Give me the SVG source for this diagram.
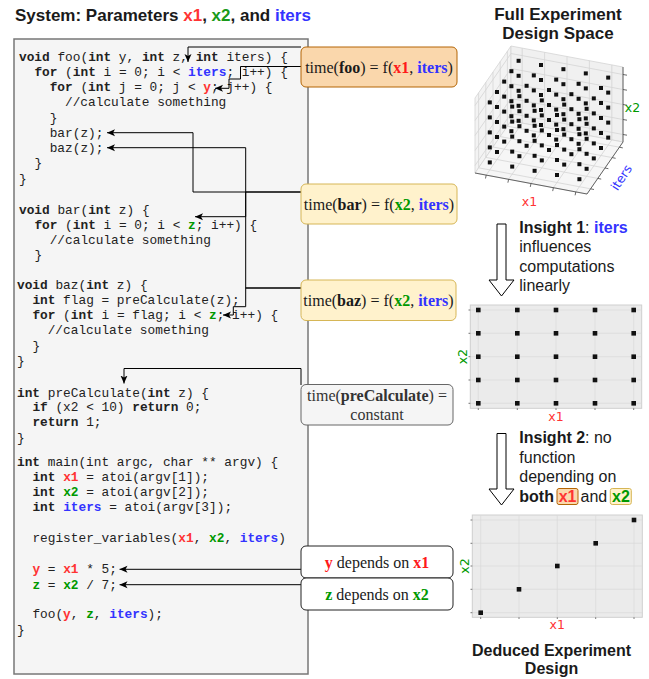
<svg xmlns="http://www.w3.org/2000/svg" xmlns:xlink="http://www.w3.org/1999/xlink" width="649" height="679" viewBox="0 0 649 679">
<style>
.code{font-family:"Liberation Mono","DejaVu Sans Mono",monospace;font-size:12.8px;fill:#222;white-space:pre}
.k{font-weight:bold}
.r{font-weight:bold;fill:#ff3333}
.g{font-weight:bold;fill:#009900}
.b{font-weight:bold;fill:#3333ff}
.lbl{font-family:"Liberation Serif","Times New Roman",serif;font-size:16px;fill:#1a1a1a;text-anchor:middle}
.lbl .r{fill:#ff1a1a}
.head{font-family:"Liberation Sans",Arial,sans-serif;font-weight:bold;fill:#1a1a1a}
.ins{font-family:"Liberation Sans",Arial,sans-serif;font-size:16px;fill:#1a1a1a}
.ax{font-family:"DejaVu Sans",sans-serif;font-size:12.5px}
.conn path{fill:none;stroke:#000;stroke-width:1;marker-end:url(#arr)}
.grid line{stroke:#d4d4d4;stroke-width:0.8}
.tick line{stroke:#444;stroke-width:0.8}
</style>
<defs>
<marker id="arr" viewBox="0 0 8 8" refX="8" refY="4" markerWidth="8" markerHeight="8" markerUnits="userSpaceOnUse" orient="auto">
<path d="M0,0.5 L8,4 L0,7.5 L2,4 Z" fill="#000"/>
</marker>
<rect id="sq" x="-2" y="-2" width="4" height="4" fill="#111"/>
<rect id="sq2" x="-2.3" y="-2.3" width="4.6" height="4.6" fill="#111"/>
<g id="row"><use href="#sq"/><use href="#sq" x="22.4" y="4.2"/><use href="#sq" x="44.8" y="8.4"/><use href="#sq" x="67.2" y="12.6"/><use href="#sq" x="89.6" y="16.8"/></g>
<g id="plane"><use href="#row"/><use href="#row" x="7.2" y="-10.4"/><use href="#row" x="14.4" y="-20.8"/><use href="#row" x="21.6" y="-31.2"/><use href="#row" x="28.8" y="-41.6"/></g>
</defs>
<rect width="649" height="679" fill="#fff"/>

<g id="title">
<text class="head" x="15" y="20.5" font-size="17">System: Parameters <tspan style="fill:#ff3333">x1</tspan>, <tspan style="fill:#1a9a1a">x2</tspan>, and <tspan style="fill:#3333ff">iters</tspan></text>
</g>

<g id="code-box">
<rect x="14" y="39" width="294" height="635" fill="#f5f5f5" stroke="#777" stroke-width="1.5"/>
<text class="code" y="60.5"><tspan x="19" class="k">void</tspan> foo(<tspan class="k">int</tspan> y, <tspan class="k">int</tspan> z, <tspan class="k">int</tspan> iters) {</text>
<text class="code" x="34.4" y="75.75"><tspan class="k">for</tspan> (<tspan class="k">int</tspan> i = 0; i &lt; <tspan class="b">iters</tspan>; i++) {</text>
<text class="code" x="49.7" y="91"><tspan class="k">for</tspan> (<tspan class="k">int</tspan> j = 0; j &lt; <tspan class="r">y</tspan>; j++) {</text>
<text class="code" x="65" y="106.25">//calculate something</text>
<text class="code" x="49.7" y="121.5">}</text>
<text class="code" x="49.7" y="136.75">bar(z);</text>
<text class="code" x="49.7" y="152">baz(z);</text>
<text class="code" x="34.4" y="167.25">}</text>
<text class="code" x="19" y="182.5">}</text>

<text class="code" x="19" y="213.5"><tspan class="k">void</tspan> bar(<tspan class="k">int</tspan> z) {</text>
<text class="code" x="34.4" y="228.75"><tspan class="k">for</tspan> (<tspan class="k">int</tspan> i = 0; i &lt; <tspan class="g">z</tspan>; i++) {</text>
<text class="code" x="49.7" y="244">//calculate something</text>
<text class="code" x="34.4" y="259.25">}</text>

<text class="code" x="17" y="288.5"><tspan class="k">void</tspan> baz(<tspan class="k">int</tspan> z) {</text>
<text class="code" x="32.4" y="303.75"><tspan class="k">int</tspan> flag = preCalculate(z);</text>
<text class="code" x="32.4" y="319"><tspan class="k">for</tspan> (<tspan class="k">int</tspan> i = flag; i &lt; <tspan class="g">z</tspan>; i++) {</text>
<text class="code" x="47.7" y="334.25">//calculate something</text>
<text class="code" x="32.4" y="349.5">}</text>
<text class="code" x="17" y="364.75">}</text>

<text class="code" x="17" y="396.5"><tspan class="k">int</tspan> preCalculate(<tspan class="k">int</tspan> z) {</text>
<text class="code" x="32.4" y="411"><tspan class="k">if</tspan> (x2 &lt; 10) <tspan class="k">return</tspan> 0;</text>
<text class="code" x="32.4" y="426"><tspan class="k">return</tspan> 1;</text>
<text class="code" x="17" y="441.5">}</text>

<text class="code" x="17" y="465.5"><tspan class="k">int</tspan> main(int argc, char ** argv) {</text>
<text class="code" x="32.4" y="480.75"><tspan class="k">int</tspan> <tspan class="r">x1</tspan> = atoi(argv[1]);</text>
<text class="code" x="32.4" y="496"><tspan class="k">int</tspan> <tspan class="g">x2</tspan> = atoi(argv[2]);</text>
<text class="code" x="32.4" y="511.25"><tspan class="k">int</tspan> <tspan class="b">iters</tspan> = atoi(argv[3]);</text>
<text class="code" x="32.4" y="541.75">register_variables(<tspan class="r">x1</tspan>, <tspan class="g">x2</tspan>, <tspan class="b">iters</tspan>)</text>
<text class="code" x="32.4" y="573.3"><tspan class="r">y</tspan> = <tspan class="r">x1</tspan> * 5;</text>
<text class="code" x="32.4" y="588.6"><tspan class="g">z</tspan> = <tspan class="g">x2</tspan> / 7;</text>
<text class="code" x="32.4" y="618.3">foo(<tspan class="r">y</tspan>, <tspan class="g">z</tspan>, <tspan class="b">iters</tspan>);</text>
<text class="code" x="17" y="633.5">}</text>
</g>

<g id="connectors" class="conn">
<path d="M301,47 H188 V62"/>
<path d="M301,66.5 H240.5 V79 H229 V88.3 H215"/>
<path d="M301,192 H193 V132.7 H107"/>
<path d="M301,192 H245.7 V216.7 H195"/>
<path d="M301,288 H245.7 V147.7 H107"/>
<path d="M301,288 H245.7 V306.7 H233.3 V315 H223"/>
<path d="M301,385 V368.5 H124 V383.5"/>
<path d="M301,569.3 H119.5"/>
<path d="M301,584.7 H119.5"/>
</g>

<g id="box-foo">
<rect x="301" y="47" width="156" height="40" rx="5" fill="#fad7ac" stroke="#b46504"/>
<text class="lbl" x="379" y="73">time(<tspan font-weight="bold">foo</tspan>) = f(<tspan class="r">x1</tspan>, <tspan class="b">iters</tspan>)</text>
</g>
<g id="box-bar">
<rect x="301" y="184" width="156" height="40" rx="5" fill="#fff2cc" stroke="#d6b656"/>
<text class="lbl" x="379" y="210">time(<tspan font-weight="bold">bar</tspan>) = f(<tspan class="g">x2</tspan>, <tspan class="b">iters</tspan>)</text>
</g>
<g id="box-baz">
<rect x="301" y="280" width="155" height="40.5" rx="5" fill="#fff2cc" stroke="#d6b656"/>
<text class="lbl" x="378.5" y="306">time(<tspan font-weight="bold">baz</tspan>) = f(<tspan class="g">x2</tspan>, <tspan class="b">iters</tspan>)</text>
</g>
<g id="box-precalc">
<rect x="301" y="384.5" width="152" height="40.5" rx="5" fill="#f5f5f5" stroke="#666"/>
<text class="lbl" x="377" y="400.7" style="fill:#333">time(<tspan font-weight="bold">preCalculate</tspan>) =</text>
<text class="lbl" x="377" y="420" style="fill:#333">constant</text>
</g>
<g id="box-y">
<rect x="301" y="546" width="152" height="32" rx="5" fill="#fff" stroke="#222"/>
<text class="lbl" x="377" y="567.5"><tspan class="r">y</tspan> depends on <tspan class="r">x1</tspan></text>
</g>
<g id="box-z">
<rect x="301" y="578" width="152" height="32" rx="5" fill="#fff" stroke="#222"/>
<text class="lbl" x="377" y="599.5"><tspan class="g">z</tspan> depends on <tspan class="g">x2</tspan></text>
</g>

<g id="full-space-title">
<text class="head" x="558" y="19.5" font-size="17" text-anchor="middle">Full Experiment</text>
<text class="head" x="558" y="38.8" font-size="17" text-anchor="middle">Design Space</text>
</g>

<g id="plot3d">
<polygon points="475,173 511,121 511,46 475,98" fill="#f3f3f3" stroke="#d4d4d4" stroke-width="0.8"/>
<polygon points="511,121 623,142 623,67 511,46" fill="#f0f0f0" stroke="#d4d4d4" stroke-width="0.8"/>
<polygon points="475,173 587,194 623,142 511,121" fill="#f6f6f6" stroke="#d4d4d4" stroke-width="0.8"/>
<g class="grid">
<line x1="478.6" y1="167.8" x2="478.6" y2="92.8"/><line x1="485.8" y1="157.4" x2="485.8" y2="82.4"/><line x1="493" y1="147" x2="493" y2="72"/><line x1="500.2" y1="136.6" x2="500.2" y2="61.6"/><line x1="507.4" y1="126.2" x2="507.4" y2="51.2"/>
<line x1="475" y1="165.5" x2="511" y2="113.5"/><line x1="475" y1="150.5" x2="511" y2="98.5"/><line x1="475" y1="135.5" x2="511" y2="83.5"/><line x1="475" y1="120.5" x2="511" y2="68.5"/><line x1="475" y1="105.5" x2="511" y2="53.5"/>
<line x1="522.2" y1="123.1" x2="522.2" y2="48.1"/><line x1="544.6" y1="127.3" x2="544.6" y2="52.3"/><line x1="567" y1="131.5" x2="567" y2="56.5"/><line x1="589.4" y1="135.7" x2="589.4" y2="60.7"/><line x1="611.8" y1="139.9" x2="611.8" y2="64.9"/>
<line x1="511" y1="113.5" x2="623" y2="134.5"/><line x1="511" y1="98.5" x2="623" y2="119.5"/><line x1="511" y1="83.5" x2="623" y2="104.5"/><line x1="511" y1="68.5" x2="623" y2="89.5"/><line x1="511" y1="53.5" x2="623" y2="74.5"/>
<line x1="486.2" y1="175.1" x2="522.2" y2="123.1"/><line x1="508.6" y1="179.3" x2="544.6" y2="127.3"/><line x1="531" y1="183.5" x2="567" y2="131.5"/><line x1="553.4" y1="187.7" x2="589.4" y2="135.7"/><line x1="575.8" y1="191.9" x2="611.8" y2="139.9"/>
<line x1="478.6" y1="167.8" x2="590.6" y2="188.8"/><line x1="485.8" y1="157.4" x2="597.8" y2="178.4"/><line x1="493" y1="147" x2="605" y2="168"/><line x1="500.2" y1="136.6" x2="612.2" y2="157.6"/><line x1="507.4" y1="126.2" x2="619.4" y2="147.2"/>
</g>
<g class="tick">
<line x1="475" y1="173" x2="587" y2="194"/><line x1="587" y1="194" x2="623" y2="142"/><line x1="623" y1="142" x2="623" y2="67"/>
<line x1="486.2" y1="175.1" x2="485.5" y2="178.5"/><line x1="508.6" y1="179.3" x2="507.9" y2="182.7"/><line x1="531" y1="183.5" x2="530.3" y2="186.9"/><line x1="553.4" y1="187.7" x2="552.7" y2="191.1"/><line x1="575.8" y1="191.9" x2="575.1" y2="195.3"/>
<line x1="590.6" y1="188.8" x2="594" y2="189.5"/><line x1="597.8" y1="178.4" x2="601.2" y2="179.1"/><line x1="605" y1="168" x2="608.4" y2="168.7"/><line x1="612.2" y1="157.6" x2="615.6" y2="158.3"/><line x1="619.4" y1="147.2" x2="622.8" y2="147.9"/>
<line x1="623" y1="134.5" x2="627" y2="135.2"/><line x1="623" y1="119.5" x2="627" y2="120.2"/><line x1="623" y1="104.5" x2="627" y2="105.2"/><line x1="623" y1="89.5" x2="627" y2="90.2"/><line x1="623" y1="74.5" x2="627" y2="75.2"/>
</g>
<g transform="translate(489.8,162.4)">
<use href="#plane"/><use href="#plane" y="-15"/><use href="#plane" y="-30"/><use href="#plane" y="-45"/><use href="#plane" y="-60"/>
</g>
<text class="ax" x="529.5" y="206" fill="#ff3333" text-anchor="middle">x1</text>
<text class="ax" x="632.5" y="112" fill="#009900" text-anchor="middle">x2</text>
<text class="ax" x="0" y="0" fill="#3333ff" text-anchor="middle" transform="translate(625,180) rotate(-57)">iters</text>
</g>

<g id="insight1">
<polygon points="497,224 506,224 506,280 514,280 501.5,296 489,280 497,280" fill="#fff" stroke="#000" stroke-width="1"/>
<text class="ins" x="519.3" y="232.5"><tspan font-weight="bold">Insight 1</tspan>: <tspan font-weight="bold" style="fill:#3333ff">iters</tspan></text>
<text class="ins" x="519.3" y="252">influences</text>
<text class="ins" x="519.3" y="271.5">computations</text>
<text class="ins" x="519.3" y="291">linearly</text>
</g>

<g id="plot2d-grid">
<rect x="470.3" y="305" width="171.4" height="103.3" fill="#ebebeb" stroke="#cfcfcf"/>
<g stroke="#dadada" stroke-width="0.7">
<line x1="478.3" y1="305" x2="478.3" y2="408.3"/><line x1="517.3" y1="305" x2="517.3" y2="408.3"/><line x1="556" y1="305" x2="556" y2="408.3"/><line x1="595" y1="305" x2="595" y2="408.3"/><line x1="633.7" y1="305" x2="633.7" y2="408.3"/>
<line x1="470.3" y1="310" x2="641.7" y2="310"/><line x1="470.3" y1="333.3" x2="641.7" y2="333.3"/><line x1="470.3" y1="356.7" x2="641.7" y2="356.7"/><line x1="470.3" y1="380" x2="641.7" y2="380"/><line x1="470.3" y1="403.3" x2="641.7" y2="403.3"/>
</g>
<g stroke="#555" stroke-width="0.8">
<line x1="468.5" y1="310" x2="470.3" y2="310"/><line x1="468.5" y1="333.3" x2="470.3" y2="333.3"/><line x1="468.5" y1="356.7" x2="470.3" y2="356.7"/><line x1="468.5" y1="380" x2="470.3" y2="380"/><line x1="468.5" y1="403.3" x2="470.3" y2="403.3"/>
<line x1="478.3" y1="408.3" x2="478.3" y2="410"/><line x1="517.3" y1="408.3" x2="517.3" y2="410"/><line x1="556" y1="408.3" x2="556" y2="410"/><line x1="595" y1="408.3" x2="595" y2="410"/><line x1="633.7" y1="408.3" x2="633.7" y2="410"/>
</g>
<g>
<use href="#sq2" x="478.3" y="310"/><use href="#sq2" x="517.3" y="310"/><use href="#sq2" x="556" y="310"/><use href="#sq2" x="595" y="310"/><use href="#sq2" x="633.7" y="310"/>
<use href="#sq2" x="478.3" y="333.3"/><use href="#sq2" x="517.3" y="333.3"/><use href="#sq2" x="556" y="333.3"/><use href="#sq2" x="595" y="333.3"/><use href="#sq2" x="633.7" y="333.3"/>
<use href="#sq2" x="478.3" y="356.7"/><use href="#sq2" x="517.3" y="356.7"/><use href="#sq2" x="556" y="356.7"/><use href="#sq2" x="595" y="356.7"/><use href="#sq2" x="633.7" y="356.7"/>
<use href="#sq2" x="478.3" y="380"/><use href="#sq2" x="517.3" y="380"/><use href="#sq2" x="556" y="380"/><use href="#sq2" x="595" y="380"/><use href="#sq2" x="633.7" y="380"/>
<use href="#sq2" x="478.3" y="403.3"/><use href="#sq2" x="517.3" y="403.3"/><use href="#sq2" x="556" y="403.3"/><use href="#sq2" x="595" y="403.3"/><use href="#sq2" x="633.7" y="403.3"/>
</g>
<text class="ax" x="556" y="420.5" fill="#ff3333" text-anchor="middle" font-size="12">x1</text>
<text class="ax" x="0" y="0" fill="#009900" text-anchor="middle" font-size="12" transform="translate(466.8,356.7) rotate(-90)">x2</text>
</g>

<g id="insight2">
<polygon points="497,433.5 506,433.5 506,489 514,489 501.5,505 489,489 497,489" fill="#fff" stroke="#000" stroke-width="1"/>
<text class="ins" x="519.3" y="443.3"><tspan font-weight="bold">Insight 2</tspan>: no</text>
<text class="ins" x="519.3" y="462.7">function</text>
<text class="ins" x="519.3" y="482">depending on</text>
<rect x="557" y="488.5" width="21" height="16" rx="2" fill="#fad7ac" stroke="#b46504"/>
<rect x="610.3" y="488.5" width="21" height="16" rx="2" fill="#fff2cc" stroke="#d6b656"/>
<text class="ins" x="519.3" y="501.5" font-weight="bold">both</text>
<text class="ins" x="558.7" y="501.5" font-weight="bold" style="fill:#ff3333">x1</text>
<text class="ins" x="580.5" y="501.5">and</text>
<text class="ins" x="612" y="501.5" font-weight="bold" style="fill:#009900">x2</text>
</g>

<g id="plot2d-diag">
<rect x="472.3" y="515" width="170" height="102.3" fill="#ebebeb" stroke="#cfcfcf"/>
<g stroke="#dadada" stroke-width="0.7">
<line x1="480.7" y1="515" x2="480.7" y2="617.3"/><line x1="519" y1="515" x2="519" y2="617.3"/><line x1="557.3" y1="515" x2="557.3" y2="617.3"/><line x1="595.7" y1="515" x2="595.7" y2="617.3"/><line x1="634" y1="515" x2="634" y2="617.3"/>
<line x1="472.3" y1="520" x2="642.3" y2="520"/><line x1="472.3" y1="543.3" x2="642.3" y2="543.3"/><line x1="472.3" y1="566" x2="642.3" y2="566"/><line x1="472.3" y1="589.3" x2="642.3" y2="589.3"/><line x1="472.3" y1="612.7" x2="642.3" y2="612.7"/>
</g>
<g stroke="#555" stroke-width="0.8">
<line x1="470.5" y1="520" x2="472.3" y2="520"/><line x1="470.5" y1="543.3" x2="472.3" y2="543.3"/><line x1="470.5" y1="566" x2="472.3" y2="566"/><line x1="470.5" y1="589.3" x2="472.3" y2="589.3"/><line x1="470.5" y1="612.7" x2="472.3" y2="612.7"/>
<line x1="480.7" y1="617.3" x2="480.7" y2="619"/><line x1="519" y1="617.3" x2="519" y2="619"/><line x1="557.3" y1="617.3" x2="557.3" y2="619"/><line x1="595.7" y1="617.3" x2="595.7" y2="619"/><line x1="634" y1="617.3" x2="634" y2="619"/>
</g>
<use href="#sq2" x="480.7" y="612.7"/><use href="#sq2" x="519" y="589.3"/><use href="#sq2" x="557.3" y="566"/><use href="#sq2" x="595.7" y="543.3"/><use href="#sq2" x="634" y="520"/>
<text class="ax" x="557.3" y="628.5" fill="#ff3333" text-anchor="middle" font-size="12">x1</text>
<text class="ax" x="0" y="0" fill="#009900" text-anchor="middle" font-size="12" transform="translate(469,566) rotate(-90)">x2</text>
</g>

<g id="deduced-title">
<text class="head" x="551.5" y="655.5" font-size="16" text-anchor="middle">Deduced Experiment</text>
<text class="head" x="551.5" y="674" font-size="16" text-anchor="middle">Design</text>
</g>
</svg>
